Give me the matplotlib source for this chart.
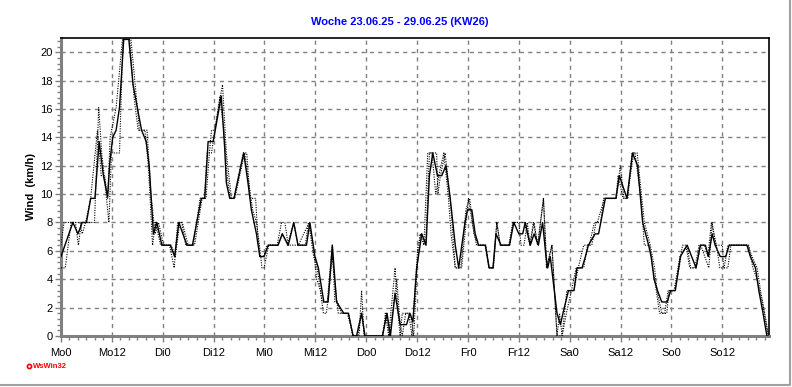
import numpy as np
import matplotlib.pyplot as plt
from matplotlib.ticker import MultipleLocator
from matplotlib.lines import Line2D

plt.rcParams["font.family"] = ["Liberation Sans", "DejaVu Sans"]

TITLE = "Woche 23.06.25 - 29.06.25 (KW26)"
DAY_LABELS = ["Mo0", "Mo12", "Di0", "Di12", "Mi0", "Mi12", "Do0",
              "Do12", "Fr0", "Fr12", "Sa0", "Sa12", "So0", "So12"]

# solid line (hours since Mo0, km/h)
wind_h = [0, 2.8, 4, 5, 6, 7, 8, 9, 10, 11, 11.5, 12.2, 13, 13.8, 14.8, 16, 17, 18, 19,
          20.1, 20.8, 21.8, 22.6, 23.8, 25.8, 26.8, 27.8, 29.7, 31, 33.1, 33.9, 34.7,
          35.9, 37.8, 38.6, 39, 39.8, 40.8, 43.1, 44.1, 44.9, 46.1, 46.9, 47.9, 48.9,
          51.2, 52.2, 53.6, 54.9, 55.9, 57.9, 58.7, 59.9, 60.7, 62, 63, 64, 65, 66.7,
          67.8, 68.9, 69.7, 70.9, 71.7, 75.8, 76.9, 77.7, 78.8, 80, 81.5, 82.3, 83,
          83.9, 84.7, 85.1, 86.1, 86.9, 87.7, 88.8, 89.8, 90.8, 91.8, 93, 93.8, 95.3,
          95.9, 96.9, 97.7, 98.5, 100.1, 101, 101.9, 102.6, 103.8, 105.8, 106.8, 108,
          108.9, 109.5, 110.7, 111.6, 112.6, 113.6, 114.4, 114.8, 115.4, 117, 117.8,
          118.4, 119.7, 121, 121.7, 122.9, 123.7, 124.4, 126, 126.8, 128.4, 130.9,
          131.7, 133.5, 134.8, 136, 137.2, 138.6, 139.2, 139.9, 140.7, 141.7, 143,
          143.8, 144.9, 146.1, 147.7, 149.8, 150.8, 152, 152.7, 153.6, 154.3, 155.5,
          156.8, 157.6, 161.8, 162.6, 163.8, 164.6, 165.6, 166.5]
wind_v = [5.6, 8.0, 7.2, 8.0, 8.0, 9.7, 9.7, 13.7, 11.3, 9.8, 12.2, 14.0, 14.5, 16.1, 20.9,
          20.9, 17.7, 16.1, 14.5, 13.7, 12.0, 7.2, 8.0, 6.4, 6.4, 5.6, 8.0, 6.4, 6.4, 9.7,
          9.7, 13.7, 13.7, 16.9, 13.3, 10.8, 9.7, 9.7, 12.9, 10.8, 8.9, 7.2, 5.6, 5.6,
          6.4, 6.4, 7.2, 6.4, 8.0, 6.4, 6.4, 8.0, 5.6, 4.8, 2.4, 2.4, 6.4, 2.4, 1.6, 1.6,
          0, 0, 1.6, 0, 0, 1.6, 0, 3.0, 0.8, 0.8, 1.6, 1.0, 4.8, 6.4, 7.2, 6.4, 11.3,
          12.9, 11.3, 11.3, 12.0, 9.7, 6.4, 4.8, 8.0, 8.9, 8.9, 7.2, 6.4, 6.4, 4.8, 4.8,
          7.2, 6.4, 6.4, 8.0, 7.2, 7.2, 8.0, 6.4, 7.2, 6.4, 8.0, 5.6, 4.8, 5.6, 1.6, 0.8,
          1.6, 3.2, 3.2, 4.8, 4.8, 5.6, 6.4, 7.2, 7.2, 9.7, 9.7, 11.3, 9.7, 12.9, 12.0,
          8.0, 6.4, 5.6, 4.0, 3.2, 2.4, 2.4, 3.2, 3.2, 5.6, 6.4, 4.8, 6.4, 6.4, 5.6, 7.2,
          6.4, 5.6, 5.6, 6.4, 6.4, 5.6, 4.8, 3.2, 1.6, 0]

# first dotted line
dot1_h = [0, 1.0, 2.4, 3.4, 4.1, 4.8, 6.6, 7.9, 8.9, 9.6, 10.2, 11.3, 11.9, 13.8, 14.6,
          16.2, 17.2, 18.2, 19.8, 20.6, 21.6, 22.3, 23.5, 25.6, 26.7, 27.5, 28.5, 29.4,
          31.2, 32.8, 33.8, 34.5, 35.5, 37.5, 38.4, 39.2, 39.9, 40.8, 43.0, 43.8, 44.6,
          45.9, 46.4, 46.9, 47.8, 48.6, 51.2, 52.2, 53.4, 54.9, 55.9, 57.6, 58.4, 59.6,
          60.4, 61.6, 62.8, 64, 64.6, 65.2, 66.2, 67.8, 68.8, 70, 70.9, 71.6, 75.8, 76.8,
          77.5, 78.5, 79.2, 80, 80.5, 81.3, 82.4, 83.2, 84, 84.7, 85.6, 86.5, 87.5, 88.4,
          89.1, 90.3, 91.4, 92, 93, 94.3, 95.5, 96.4, 97.4, 98.4, 100.2, 100.9, 101.9,
          102.8, 103.6, 105.6, 106.6, 109.3, 110.6, 111.4, 112.5, 113.8, 114.6, 115.8,
          116.4, 117, 118.2, 119.2, 120.4, 121.5, 123.3, 124.2, 125.2, 126.2, 127.3, 128,
          130.9, 131.4, 132.6, 133.7, 134.7, 135.4, 136.8, 137.6, 138.8, 139.6, 140.4,
          141.2, 142.4, 143.2, 144.8, 145.8, 146.6, 147.4, 148.3, 149.5, 150.5, 151.8,
          152.6, 153.4, 154.6, 155.4, 156.4, 157.3, 162, 163, 164.2, 165, 166, 166.9]
dot1_v = [4.8, 4.8, 8.0, 8.0, 6.4, 8.0, 8.0, 8.0, 16.1, 12.9, 11.3, 8.0, 12.9, 12.9, 20.9,
          20.9, 16.9, 14.5, 14.5, 12.0, 6.4, 8.0, 6.4, 6.4, 4.8, 8.0, 8.0, 6.4, 6.4, 9.7,
          9.7, 12.9, 12.9, 16.9, 14.5, 11.3, 9.7, 9.7, 12.9, 12.9, 9.7, 9.7, 7.2, 5.6,
          5.6, 6.4, 6.4, 7.2, 6.4, 8.0, 6.4, 6.4, 8.0, 5.6, 4.8, 2.4, 2.4, 6.4, 2.4, 2.4,
          1.6, 1.6, 0, 0, 1.6, 0, 0, 1.6, 0, 2.4, 4.0, 0.8, 0, 1.6, 1.6, 0, 4.8, 7.2,
          6.4, 12.9, 12.9, 10.0, 11.3, 12.9, 9.7, 7.2, 4.8, 4.8, 8.9, 9.7, 7.2, 6.4, 6.4,
          4.8, 4.8, 8.0, 6.4, 6.4, 8.0, 8.0, 6.4, 8.0, 6.4, 9.7, 4.8, 6.4, 3.2, 0, 0,
          1.6, 3.2, 4.8, 4.8, 6.4, 6.4, 8.0, 8.0, 9.7, 9.7, 11.3, 9.7, 9.7, 12.9, 12.9,
          9.7, 6.4, 6.4, 4.8, 3.2, 1.6, 1.6, 3.2, 3.2, 4.8, 6.4, 6.4, 4.8, 4.8, 6.4, 6.4,
          5.6, 8.0, 6.4, 4.8, 4.8, 6.4, 6.4, 5.6, 4.8, 3.2, 1.6, 0]

# second dotted line
dot2_h = [0, 0.7, 4.5, 5, 5.8, 7, 8.6, 9.5, 10.3, 11, 11.6, 13, 14, 14.5, 16.5, 17.5, 18.5,
          20.3, 21.2, 22.2, 23, 24.2, 26, 27, 28, 28.6, 30, 31.5, 33.3, 34.2, 35, 35.5,
          36.3, 37.6, 38.1, 39, 39.6, 40.2, 41, 43.3, 44.3, 45.2, 46.1, 46.8, 47.4, 47.9,
          49, 51, 52, 52.8, 53.6, 56, 58.5, 59.5, 60.3, 61.2, 61.9, 62.6, 63.2, 64, 64.8,
          65.4, 66.3, 67.5, 69, 70.3, 70.9, 71.5, 76, 76.5, 77.3, 78.8, 79.5, 80, 80.5,
          82, 82.8, 83.3, 84.2, 85, 86, 86.9, 88.6, 88.9, 89.5, 90.6, 91.8, 92.6, 93,
          94.5, 96.1, 97, 98, 100, 101, 102, 102.8, 103.6, 105.8, 106.6, 108, 108.5,
          109.2, 110, 110.6, 111.6, 112.4, 113.8, 114.5, 115.8, 117, 117.6, 118.2, 119.3,
          121, 122, 123.3, 124.6, 125.8, 126.5, 128.2, 131, 131.9, 132.8, 133.5, 135.1,
          135.9, 137.6, 139, 140, 140.6, 141.7, 142.9, 143.4, 144.6, 146, 147.7, 148.5,
          149.8, 150.9, 152.8, 153.6, 154.4, 156, 156.3, 157.3, 158, 162.2, 163.2,
          164.2, 165.4, 166.8]
dot2_v = [6.4, 8.0, 8.0, 7.2, 8.0, 9.7, 14.5, 11.3, 11.3, 9.7, 14.0, 16.1, 19.3, 20.9,
          20.9, 17.7, 14.5, 14.5, 10.0, 7.2, 8.0, 6.4, 6.4, 5.6, 8.0, 8.0, 6.4, 6.4, 9.7,
          9.7, 12.9, 14.5, 14.5, 16.9, 17.7, 12.9, 11.3, 9.7, 9.7, 12.9, 10.8, 8.9, 8.0,
          6.4, 4.8, 4.8, 6.4, 6.4, 8.0, 8.0, 6.4, 6.4, 8.0, 6.4, 4.0, 3.2, 1.6, 1.6, 3.2,
          5.6, 3.2, 1.6, 1.6, 1.6, 0, 0, 3.2, 0, 0, 1.6, 0, 4.8, 1.6, 0, 1.6, 1.6, 0,
          2.4, 6.4, 7.2, 6.4, 12.9, 12.9, 10.0, 11.3, 12.9, 9.7, 6.4, 4.8, 4.8, 9.7, 8.0,
          6.4, 6.4, 4.8, 4.8, 8.0, 6.4, 6.4, 8.0, 8.0, 6.4, 6.4, 8.0, 6.4, 8.0, 6.4,
          9.7, 4.8, 6.4, 0, 1.6, 0, 3.2, 3.2, 4.8, 6.4, 6.4, 8.0, 8.0, 9.7, 9.7, 12.0,
          9.7, 9.7, 12.9, 12.9, 8.0, 6.4, 4.8, 3.2, 1.6, 1.6, 3.2, 3.2, 5.6, 6.4, 4.8,
          4.8, 6.4, 4.8, 8.0, 6.4, 6.4, 4.8, 4.8, 6.4, 6.4, 4.8, 4.0, 2.4, 0]

fig = plt.figure(figsize=(7.92, 3.87), dpi=100, facecolor="white")
ax = fig.add_axes([61 / 792, 51 / 387, 708 / 792, 298 / 387])

ax.plot(dot2_h, dot2_v, color="black", lw=0.8, linestyle=(0, (1, 1.2)), zorder=3)
ax.plot(dot1_h, dot1_v, color="black", lw=0.8, linestyle=(0, (1, 1.2)), zorder=3)
ax.plot(wind_h, wind_v, color="black", lw=1.0, zorder=4)

ax.set_xlim(0, 167)
ax.set_ylim(0, 21)
ax.set_xticks(np.arange(0, 168, 12))
ax.set_xticklabels(DAY_LABELS)
ax.xaxis.set_minor_locator(MultipleLocator(2))
ax.set_yticks(np.arange(0, 21, 2))
ax.yaxis.set_minor_locator(MultipleLocator(0.4))

ax.grid(True, which="major", color="#808080", linestyle=(0, (3, 3)), lw=1)
ax.tick_params(which="major", direction="out", length=4, width=1, color="#808080",
               labelsize=8, pad=2)
ax.tick_params(which="minor", direction="out", length=3, width=1, color="#808080")
ax.tick_params(axis="x", pad=5)

for side in ["left", "bottom"]:
    ax.spines[side].set_color("#808080")
    ax.spines[side].set_linewidth(2.2)
for side in ["top", "right"]:
    ax.spines[side].set_color("black")
    ax.spines[side].set_linewidth(1.2)

ax.set_ylabel("Wind  (km/h)", fontsize=8, fontweight="bold", labelpad=3)
fig.text(400 / 792, 1 - 22 / 387, TITLE, color="#0000ff", fontsize=8, fontweight="bold",
         ha="center", va="center")

fig.text(33 / 792, 1 - 367 / 387, "WsWin32", color="red", fontsize=5.5,
         fontweight="bold", ha="left", va="center")
fig.add_artist(Line2D([29 / 792], [1 - 366 / 387], marker="o", ms=3, mfc="none",
                      mec="red", mew=1.2, transform=fig.transFigure))

# grey frame on right and bottom edge
fig.add_artist(Line2D([0, 790 / 792, 790 / 792], [2 / 387, 2 / 387, 1],
                      color="#a0a0a0", lw=1.5, transform=fig.transFigure))

fig.savefig("out.png", dpi=100, facecolor="white")
